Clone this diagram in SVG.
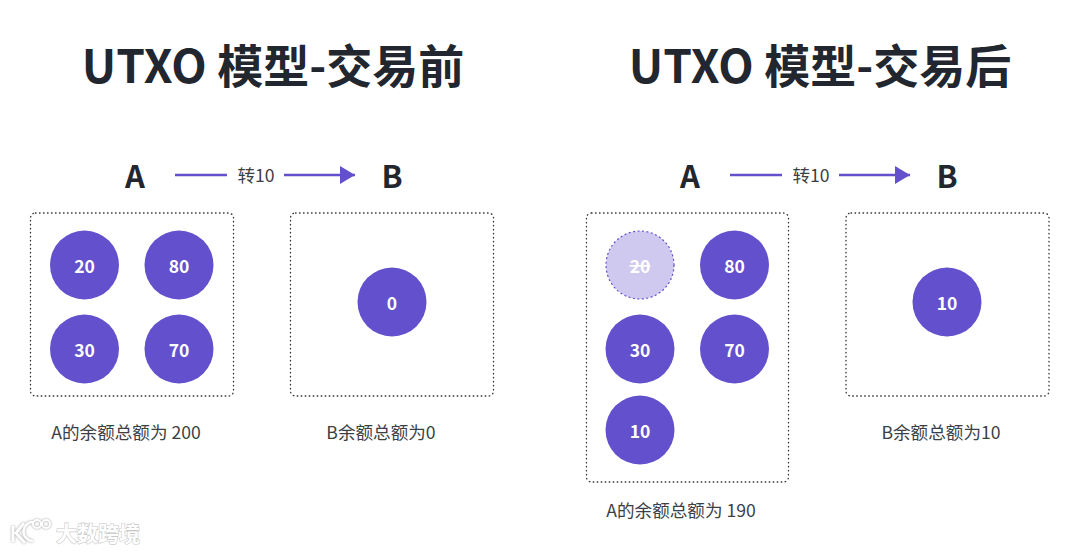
<svg xmlns="http://www.w3.org/2000/svg" width="1080" height="553" viewBox="0 0 1080 553">
<style>
text{font-family:"Noto Sans CJK SC","Noto Sans",sans-serif;text-anchor:middle}
.t{font-size:46px;font-weight:700;fill:#22262e}
.h{font-size:31px;font-weight:700;fill:#22262e}
.l{font-size:17.6px;fill:#3c3f46}
.c{font-size:17.5px;font-weight:700;fill:#fff}
.n{fill:#6350cd}
.b{fill:none;stroke:#333;stroke-width:1.3;stroke-dasharray:.6 3.4;stroke-linecap:round}
.a{stroke:#6350cd;stroke-width:2.6;fill:none}
.w{font-weight:700;fill:#fff;stroke:#c8c8c8;stroke-width:1.2;paint-order:stroke}
</style>
<defs><marker id="ah" markerUnits="userSpaceOnUse" markerWidth="16" markerHeight="18" refX="15" refY="9" orient="auto"><path d="M0 0L15 9L0 18Z" fill="#6350cd"/></marker></defs>
<rect width="1080" height="553" fill="#fff"/>
<text class="t" x="273" y="83">UTXO 模型-交易前</text>
<text class="t" x="820" y="83">UTXO 模型-交易后</text>
<g id="connectors">
<path class="a" d="M175 175H227"/><path class="a" d="M284 175H355" marker-end="url(#ah)"/>
<path class="a" d="M730 175H782"/><path class="a" d="M839 175H910" marker-end="url(#ah)"/>
</g>
<g id="left-a"><text class="h" x="135" y="188">A</text>
<rect class="b" x="30.500" y="213" width="203" height="183" rx="5"/><text class="l" x="126" y="439">A的余额总额为 200</text></g>
<g id="left-b"><text class="h" x="392" y="188">B</text>
<rect class="b" x="290.500" y="213" width="203" height="183" rx="5"/><text class="l" x="381" y="439">B余额总额为0</text></g>
<text class="l" x="256" y="182">转10</text>
<text class="l" x="811" y="182">转10</text>
<g id="n20"><circle class="n" cx="84.500" cy="265" r="34.500"/><text class="c" x="84.500" y="272.500">20</text></g>
<g id="n80"><circle class="n" cx="179" cy="265" r="34.500"/><text class="c" x="179" y="272.500">80</text></g>
<g id="n30"><circle class="n" cx="84.500" cy="349" r="34.500"/><text class="c" x="84.500" y="356.500">30</text></g>
<g id="n70"><circle class="n" cx="179" cy="349" r="34.500"/><text class="c" x="179" y="356.500">70</text></g>
<g id="n0"><circle class="n" cx="392" cy="302" r="34.500"/><text class="c" x="392" y="309.500">0</text></g>
<g id="right-a"><text class="h" x="690" y="188">A</text>
<rect class="b" x="586.500" y="213" width="202" height="269" rx="5"/><text class="l" x="681" y="517">A的余额总额为 190</text></g>
<g id="right-b"><text class="h" x="947" y="188">B</text>
<rect class="b" x="846" y="213" width="203" height="183" rx="5"/><text class="l" x="941" y="439">B余额总额为10</text></g>
<g id="r20"><circle cx="640" cy="265" r="34" fill="#cfc8ef" stroke="#6350cd" stroke-width="1.2" stroke-dasharray="2 2.500"/><text class="c" x="640" y="272.500" text-decoration="line-through">20</text></g>
<g id="r80"><circle class="n" cx="734.500" cy="265" r="34.500"/><text class="c" x="734.500" y="272.500">80</text></g>
<g id="r30"><circle class="n" cx="640" cy="349" r="34.500"/><text class="c" x="640" y="356.500">30</text></g>
<g id="r70"><circle class="n" cx="734.500" cy="349" r="34.500"/><text class="c" x="734.500" y="356.500">70</text></g>
<g id="r10"><circle class="n" cx="640" cy="430" r="34.500"/><text class="c" x="640" y="437.500">10</text></g>
<g id="rb10"><circle class="n" cx="947" cy="302" r="34.500"/><text class="c" x="947" y="309.500">10</text></g>
<g id="watermark"><g fill="none" stroke="#fff" stroke-width="3" style="filter:drop-shadow(0 0 1px #999)"><path d="M13 526V542M24 523L16 533L25 543"/><path d="M33 522a8 8 0 1 0 0 19" stroke-width="2.500"/><circle cx="37" cy="524" r="4" stroke-width="2"/><circle cx="46" cy="524" r="4" stroke-width="2"/></g>
<text class="w" x="98" y="541" style="font-size:21px">大数跨境</text></g>
</svg>
